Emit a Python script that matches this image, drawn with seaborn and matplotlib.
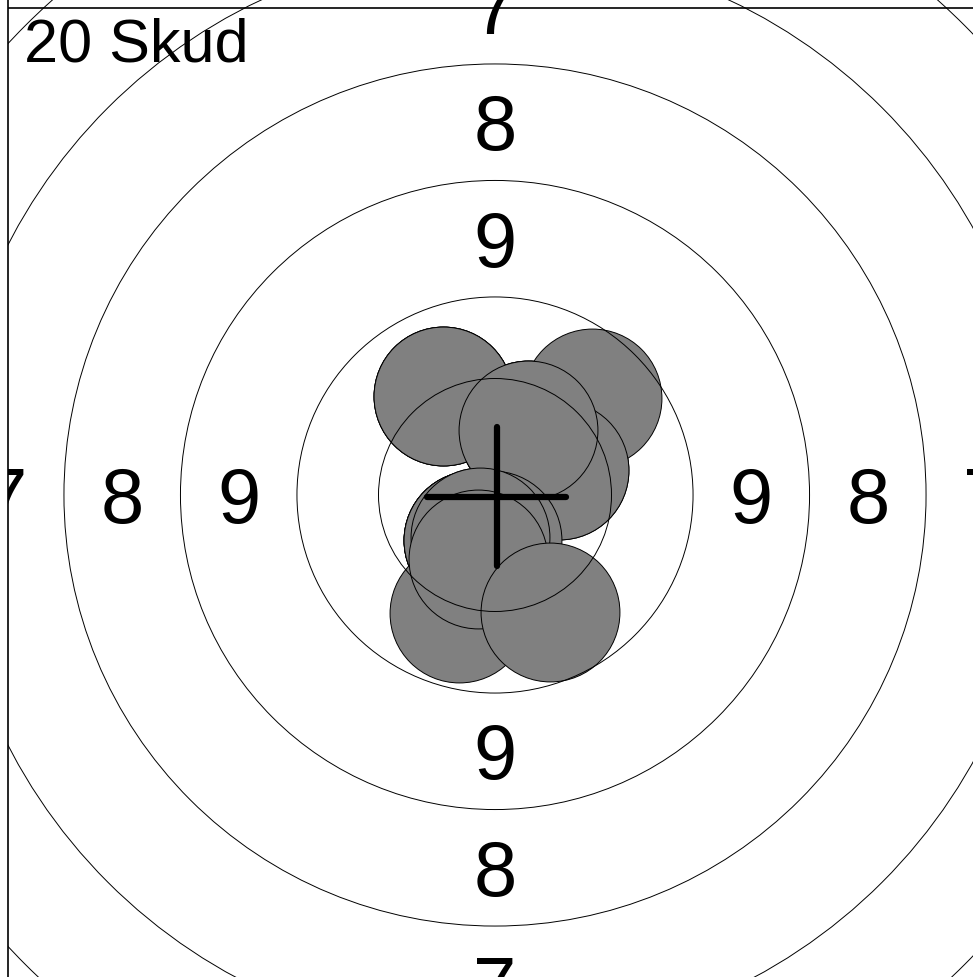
import matplotlib
matplotlib.use('Agg')
import numpy as np
import pandas as pd
import matplotlib.pyplot as plt
import seaborn as sns
from matplotlib.patches import Circle
from matplotlib.transforms import offset_copy

# shot centres on the target (ring spacing = 2.5 units)
# first ten are hidden under later shots
shot_x = [-1.12, -1.12, 0.71, 0.71, -0.47, -0.47, -0.47, -0.32, 1.37, -0.36,
          -1.12, 2.08, 1.37, 0.71, -0.47, -0.06, -0.32, -0.77, -0.36, 1.18]
shot_y = [2.12, 2.12, 1.39, 1.39, -0.97, -0.97, -0.97, -0.90, 0.54, -1.37,
          2.12, 2.08, 0.54, 1.39, -0.97, -0.97, -0.90, -2.53, -1.37, -2.51]
shot_r = 1.49

ring_radii = [2.5, 4.25, 6.75, 9.25, 11.75, 14.25]
label_radii = [5.5, 8.0, 10.5]
label_text = ['9', '8', '7']
title = '%d Skud' % len(shot_x)

df = pd.DataFrame({'x': shot_x, 'y': shot_y})

sns.set_style('white')
plt.rcParams['font.family'] = ['Liberation Sans', 'DejaVu Sans']
plt.rcParams['text.color'] = 'black'

W, H = 973, 977
S = 46.6          # pixels per unit
cx, cy = 495, 495  # target centre in pixels

fig = plt.figure(figsize=(W / 100, H / 100), dpi=100)
ax_top, ax_bot = -10, 1000
ax = fig.add_axes([8 / W, (H - ax_bot) / H, 974 / W, (ax_bot - ax_top) / H])
ax.set_xlim(-487 / S, 487 / S)
ax.set_ylim(-(ax_bot - cy) / S, (cy - ax_top) / S)
ax.set_xticks([])
ax.set_yticks([])
for side in ['top', 'right', 'bottom']:
    ax.spines[side].set_visible(False)
ax.spines['left'].set_color('black')
ax.spines['left'].set_linewidth(1.2)
ax.axhline((cy - 8) / S, color='black', lw=1.2, zorder=5)

# marker size from data radius
diam_pt = 2 * shot_r * S * 72 / fig.dpi
sns.scatterplot(data=df, x='x', y='y', s=diam_pt ** 2, color='#808080',
                edgecolor='black', linewidth=0.7, ax=ax, zorder=2, legend=False)

for r in ring_radii:
    ax.add_patch(Circle((0, 0), r, fill=False, ec='black', lw=0.7, zorder=3))

trans = offset_copy(ax.transData, fig=fig, y=-0.358 * 56, units='points')
for r, t in zip(label_radii, label_text):
    for px, py in [(0, r), (0, -r), (-r, 0), (r, 0)]:
        ax.text(px, py, t, fontsize=56, ha='center', va='baseline', color='black',
                transform=trans, zorder=4, clip_on=True)

# mean point cross
mx, my = df['x'].mean(), df['y'].mean()
ax.plot([mx - shot_r, mx + shot_r], [my, my], color='black', lw=4.5,
        solid_capstyle='round', zorder=6)
ax.plot([mx, mx], [my - shot_r, my + shot_r], color='black', lw=4.5,
        solid_capstyle='round', zorder=6)

fig.text(24 / W, 1 - 18 / H, title, fontsize=44, ha='left', va='top', color='black')

fig.savefig('out.png', dpi=100)
